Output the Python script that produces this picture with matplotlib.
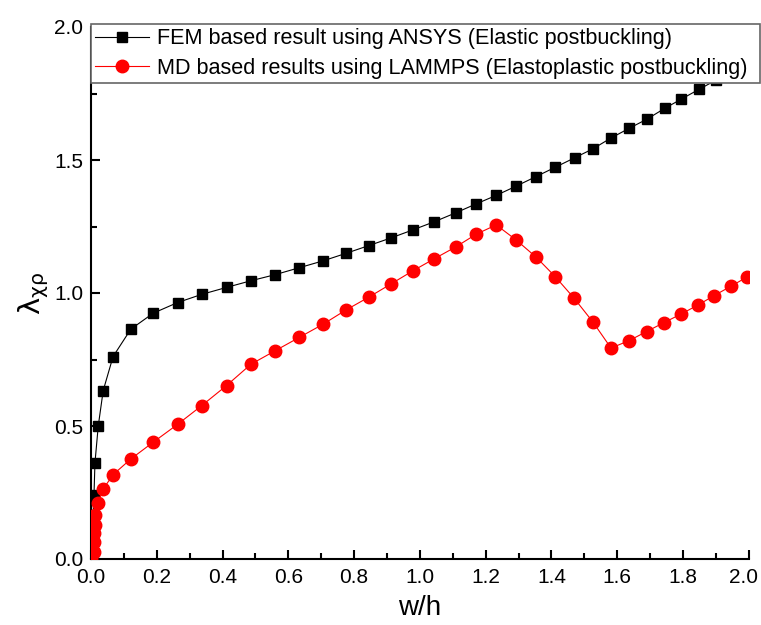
import matplotlib
matplotlib.use("Agg")
import matplotlib.pyplot as plt
import matplotlib.transforms as mtransforms
from matplotlib.ticker import MultipleLocator

plt.rcParams['font.family'] = ['Liberation Sans', 'DejaVu Sans']

# FEM (ANSYS) elastic postbuckling curve
fem_x = [0.0, 0.009, 0.012, 0.022, 0.037, 0.067, 0.121, 0.189, 0.263, 0.337,
         0.412, 0.486, 0.560, 0.633, 0.706, 0.775, 0.844, 0.912, 0.978, 1.044,
         1.110, 1.171, 1.232, 1.293, 1.352, 1.412, 1.470, 1.526, 1.580, 1.636,
         1.691, 1.744, 1.795, 1.849, 1.900, 1.950, 2.000]
fem_y = [0.0, 0.24, 0.362, 0.50, 0.633, 0.761, 0.864, 0.924, 0.964, 0.995,
         1.021, 1.046, 1.069, 1.095, 1.121, 1.149, 1.178, 1.207, 1.237, 1.268,
         1.302, 1.335, 1.367, 1.402, 1.437, 1.473, 1.508, 1.542, 1.582, 1.619,
         1.654, 1.694, 1.729, 1.766, 1.800, 1.835, 1.870]

# MD (LAMMPS) elastoplastic postbuckling curve
md_x = [0.0, 0.008, 0.009, 0.010, 0.011, 0.013, 0.022, 0.037, 0.067, 0.121,
        0.189, 0.263, 0.337, 0.412, 0.486, 0.560, 0.633, 0.706, 0.775, 0.844,
        0.912, 0.978, 1.044, 1.110, 1.171, 1.232, 1.293, 1.354, 1.411, 1.469,
        1.526, 1.581, 1.636, 1.689, 1.741, 1.794, 1.846, 1.894, 1.945, 1.993]
md_y = [0.0, 0.026, 0.064, 0.097, 0.127, 0.165, 0.212, 0.263, 0.317, 0.376,
        0.439, 0.506, 0.577, 0.652, 0.732, 0.783, 0.833, 0.883, 0.936, 0.984,
        1.034, 1.083, 1.129, 1.174, 1.221, 1.256, 1.199, 1.134, 1.062, 0.980,
        0.891, 0.793, 0.821, 0.855, 0.888, 0.921, 0.955, 0.990, 1.025, 1.059]

fem_label = "FEM based result using ANSYS (Elastic postbuckling)"
md_label = "MD based results using LAMMPS (Elastoplastic postbuckling)"

fig = plt.figure(figsize=(7.61, 6.25), dpi=100)
ax = fig.add_axes([0.1196, 0.1056, 0.8644, 0.8512])

ax.plot(fem_x, fem_y, color="black", lw=0.8, marker="s", markersize=7.5,
        label=fem_label, zorder=3)
ax.plot(md_x, md_y, color="red", lw=0.8, marker="o", markersize=9,
        label=md_label, zorder=4)

ax.set_xlim(0, 2.0)
ax.set_ylim(0, 2.0)
ax.xaxis.set_major_locator(MultipleLocator(0.2))
ax.xaxis.set_minor_locator(MultipleLocator(0.1))
ax.yaxis.set_major_locator(MultipleLocator(0.5))
ax.yaxis.set_minor_locator(MultipleLocator(0.25))
ax.xaxis.set_major_formatter(plt.FormatStrFormatter("%.1f"))
ax.yaxis.set_major_formatter(plt.FormatStrFormatter("%.1f"))

for side in ("top", "right"):
    ax.spines[side].set_visible(False)
for side in ("left", "bottom"):
    ax.spines[side].set_linewidth(1.5)

ax.tick_params(which="both", direction="in", width=1.5, labelsize=15,
               top=False, right=False)
ax.tick_params(which="major", length=6.5)
ax.tick_params(which="minor", length=4)
ax.tick_params(axis="x", pad=6.5)
ax.tick_params(axis="y", pad=5.5)

ax.set_xlabel("w/h", fontsize=20, labelpad=6)
ax.set_ylabel(r"$\mathrm{\lambda}_{\mathrm{\chi\rho}}$", fontsize=21, labelpad=2)

leg = ax.legend(loc="upper left", bbox_to_anchor=(0, 0.88, 1.017, 0.125),
                mode="expand", fontsize=15.6, frameon=True, fancybox=False,
                framealpha=1, edgecolor="#666666", borderaxespad=0,
                handlelength=2.5, handletextpad=0.37, borderpad=0.18,
                labelspacing=0.4)
leg.get_frame().set_linewidth(1.2)
leg.set_zorder(10)

# nudge the "2.0" x label left so it stays inside the canvas
fig.canvas.draw()
shift = mtransforms.ScaledTranslation(-4 / 72, 0, fig.dpi_scale_trans)
for tick in ax.xaxis.get_major_ticks():
    if abs(tick.get_loc() - 2.0) < 1e-9:
        tick.label1.set_transform(tick.label1.get_transform() + shift)

fig.savefig("out.png", dpi=100)
